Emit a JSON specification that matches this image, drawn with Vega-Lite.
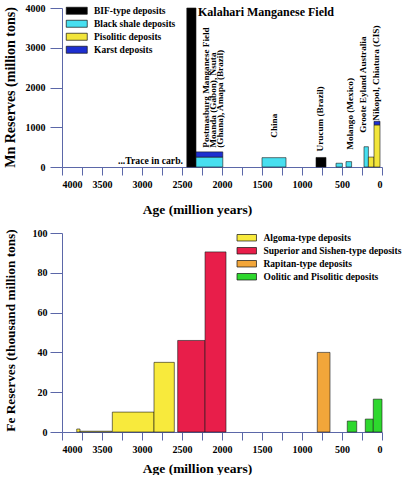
{
  "$schema": "https://vega.github.io/schema/vega-lite/v6.json",
  "background": "white",
  "padding": {"left": 2, "top": 3, "right": 0, "bottom": 0},
  "spacing": 12,
  "config": {
    "view": {"stroke": null},
    "font": "Liberation Serif",
    "axis": {
      "grid": false,
      "domainColor": "#5b67a8",
      "tickColor": "#5b67a8",
      "domainWidth": 1,
      "tickWidth": 1,
      "labelFont": "Liberation Serif",
      "labelFontWeight": "bold",
      "labelFontSize": 10,
      "labelColor": "#000000",
      "labelOverlap": false,
      "titleFont": "Liberation Serif",
      "titleFontWeight": "bold",
      "titleColor": "#000000"
    },
    "legend": {
      "labelFont": "Liberation Serif",
      "labelFontWeight": "bold",
      "labelFontSize": 9.5,
      "labelColor": "#000000",
      "padding": 0
    },
    "text": {"font": "Liberation Serif", "fontWeight": "bold", "color": "#000000"}
  },
  "resolve": {"scale": {"color": "independent"}},
  "vconcat": [
    {
      "width": 320,
      "height": 159,
      "encoding": {
        "x": {
          "field": "age", "type": "quantitative",
          "scale": {"domain": [0, 4000], "reverse": true, "nice": false},
          "axis": {
            "title": "Age (million years)",
            "values": [0, 250, 500, 750, 1000, 1250, 1500, 1750, 2000, 2250, 2500, 2750, 3000, 3250, 3500, 3750, 4000],
            "format": "d",
            "labelExpr": "datum.value % 500 === 0 ? datum.label : ''",
            "labelOverlap": false,
            "tickSize": 8,
            "labelPadding": 4,
            "titleFontSize": 13.5,
            "titleX": 135,
            "titleY": 46,
            "titleAlign": "center",
            "titleBaseline": "alphabetic"
          }
        },
        "y": {
          "field": "value", "type": "quantitative",
          "scale": {"domain": [0, 4000], "nice": false},
          "axis": {
            "title": "Mn Reserves (million tons)",
            "values": [0, 1000, 2000, 3000, 4000],
            "format": "d",
            "labelOverlap": false,
            "tickSize": 12,
            "labelPadding": 5,
            "titleFontSize": 14,
            "titleX": -52,
            "titleY": 79,
            "titleAngle": 270,
            "titleAlign": "center",
            "titleBaseline": "middle"
          }
        }
      },
      "layer": [
        {
          "data": {"values": [
            {"type": "BIF-type deposits", "age": 2440, "age_end": 2325, "value": 0, "value_top": 4000},
            {"type": "BIF-type deposits", "age": 825, "age_end": 700, "value": 0, "value_top": 240},
            {"type": "Black shale deposits", "age": 2325, "age_end": 1990, "value": 0, "value_top": 250},
            {"type": "Black shale deposits", "age": 1500, "age_end": 1200, "value": 0, "value_top": 235},
            {"type": "Black shale deposits", "age": 575, "age_end": 495, "value": 0, "value_top": 95},
            {"type": "Black shale deposits", "age": 450, "age_end": 380, "value": 0, "value_top": 135},
            {"type": "Black shale deposits", "age": 225, "age_end": 170, "value": 0, "value_top": 510},
            {"type": "Pisolitic deposits", "age": 170, "age_end": 100, "value": 0, "value_top": 250},
            {"type": "Pisolitic deposits", "age": 100, "age_end": 25, "value": 0, "value_top": 1060},
            {"type": "Karst deposits", "age": 2325, "age_end": 1990, "value": 250, "value_top": 380},
            {"type": "Karst deposits", "age": 100, "age_end": 25, "value": 1060, "value_top": 1150}
          ]},
          "mark": {"type": "bar", "stroke": "#1a1a1a", "strokeWidth": 0.6},
          "encoding": {
            "x2": {"field": "age_end"},
            "y2": {"field": "value_top"},
            "color": {
              "field": "type", "type": "nominal",
              "scale": {
                "domain": ["BIF-type deposits", "Black shale deposits", "Pisolitic deposits", "Karst deposits"],
                "range": ["#000000", "#47dff0", "#f2e53a", "#1d2fd0"]
              },
              "legend": {
                "title": null,
                "orient": "none",
                "legendX": 10,
                "legendY": -2,
                "symbolType": "M-3,-1H3V1H-3Z",
                "symbolSize": 49,
                "symbolStrokeColor": "#111111",
                "symbolStrokeWidth": 0.7,
                "symbolOpacity": 1,
                "labelOffset": 12.5,
                "rowPadding": 2
              }
            }
          }
        },
        {
          "data": {"values": [
            {"label": "Postmasburg Manganese Field\nMoanda (Gabon), Nsuta\n(Ghana), Amapa (Brazil)", "age": 2200, "value": 485},
            {"label": "China", "age": 1350, "value": 737},
            {"label": "Urucum (Brazil)", "age": 775, "value": 392},
            {"label": "Molango (Mexico)", "age": 400, "value": 435},
            {"label": "Groote Eyland Australia", "age": 237, "value": 860},
            {"label": "Nikopol, Chiatura (CIS)", "age": 75, "value": 1165}
          ]},
          "mark": {"type": "text", "angle": 270, "align": "left", "baseline": "middle", "fontSize": 9.2, "lineBreak": "\n", "lineHeight": 7},
          "encoding": {"text": {"field": "label"}}
        },
        {
          "data": {"values": [
            {"label": "Kalahari Manganese Field", "age": 2300, "value": 3890}
          ]},
          "mark": {"type": "text", "align": "left", "baseline": "middle", "fontSize": 12},
          "encoding": {"text": {"field": "label"}}
        },
        {
          "data": {"values": [
            {"label": "...Trace in carb.", "age": 2488, "value": 160}
          ]},
          "mark": {"type": "text", "align": "right", "baseline": "middle", "fontSize": 9.7},
          "encoding": {"text": {"field": "label"}}
        }
      ]
    },
    {
      "width": 320,
      "height": 199,
      "data": {"values": [
        {"type": "Algoma-type deposits", "age": 3816, "age_end": 3775, "value": 0, "value_top": 1.5},
        {"type": "Algoma-type deposits", "age": 3775, "age_end": 3379, "value": 0, "value_top": 0.4},
        {"type": "Algoma-type deposits", "age": 3371, "age_end": 2850, "value": 0, "value_top": 10},
        {"type": "Algoma-type deposits", "age": 2850, "age_end": 2596, "value": 0, "value_top": 35},
        {"type": "Superior and Sishen-type deposits", "age": 2554, "age_end": 2212, "value": 0, "value_top": 46},
        {"type": "Superior and Sishen-type deposits", "age": 2212, "age_end": 1950, "value": 0, "value_top": 90.5},
        {"type": "Rapitan-type deposits", "age": 809, "age_end": 650, "value": 0, "value_top": 40},
        {"type": "Oolitic and Pisolitic deposits", "age": 434, "age_end": 316, "value": 0, "value_top": 5.5},
        {"type": "Oolitic and Pisolitic deposits", "age": 209, "age_end": 109, "value": 0, "value_top": 6.5},
        {"type": "Oolitic and Pisolitic deposits", "age": 109, "age_end": 0, "value": 0, "value_top": 16.5}
      ]},
      "mark": {"type": "bar", "stroke": "#1a1a1a", "strokeWidth": 0.6},
      "encoding": {
        "x": {
          "field": "age", "type": "quantitative",
          "scale": {"domain": [0, 4000], "reverse": true, "nice": false},
          "axis": {
            "title": "Age (million years)",
            "values": [0, 250, 500, 750, 1000, 1250, 1500, 1750, 2000, 2250, 2500, 2750, 3000, 3250, 3500, 3750, 4000],
            "format": "d",
            "labelExpr": "datum.value % 500 === 0 ? datum.label : ''",
            "labelOverlap": false,
            "tickSize": 8,
            "labelPadding": 4,
            "titleFontSize": 13.5,
            "titleX": 135,
            "titleY": 40.5,
            "titleAlign": "center",
            "titleBaseline": "alphabetic"
          }
        },
        "x2": {"field": "age_end"},
        "y": {
          "field": "value", "type": "quantitative",
          "scale": {"domain": [0, 100], "nice": false},
          "axis": {
            "title": "Fe Reserves (thousand million tons)",
            "values": [0, 20, 40, 60, 80, 100],
            "labelOverlap": false,
            "tickSize": 12,
            "labelPadding": 3,
            "titleFontSize": 13.3,
            "titleX": -52,
            "titleY": 97,
            "titleAngle": 270,
            "titleAlign": "center",
            "titleBaseline": "middle"
          }
        },
        "y2": {"field": "value_top"},
        "color": {
          "field": "type", "type": "nominal",
          "scale": {
            "domain": ["Algoma-type deposits", "Superior and Sishen-type deposits", "Rapitan-type deposits", "Oolitic and Pisolitic deposits"],
            "range": ["#f8ea3c", "#e81e4a", "#f2a63a", "#2ed82e"]
          },
          "legend": {
            "title": null,
            "orient": "none",
            "legendX": 180,
            "legendY": 0,
            "symbolType": "M-3,-1H3V1H-3Z",
            "symbolSize": 42,
            "symbolStrokeColor": "#111111",
            "symbolStrokeWidth": 0.7,
            "symbolOpacity": 1,
            "labelOffset": 12,
            "rowPadding": 2
          }
        }
      }
    }
  ]
}
